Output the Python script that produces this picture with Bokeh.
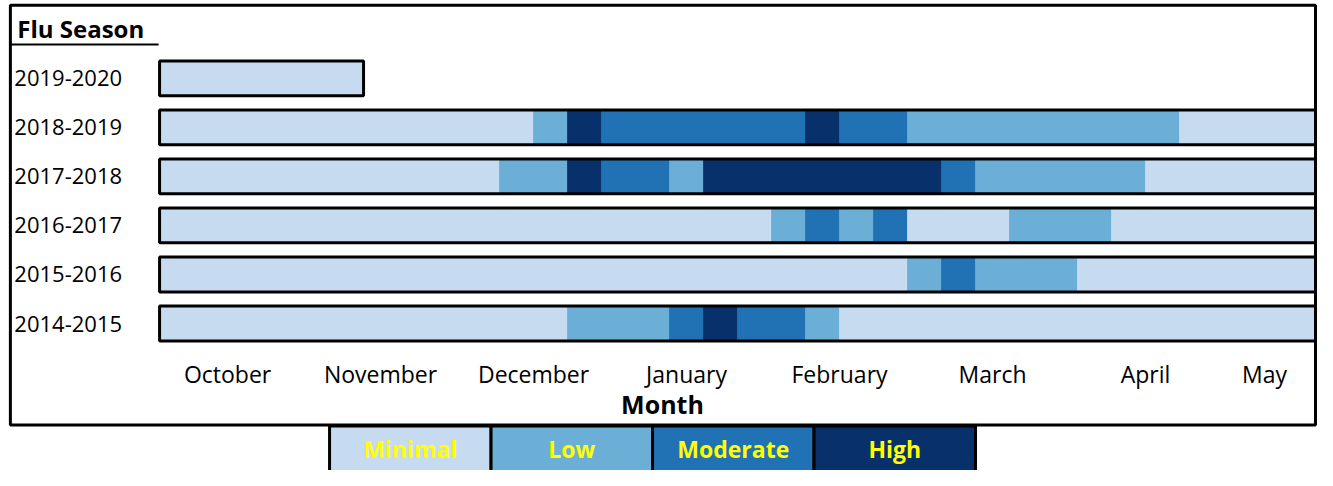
from bokeh.plotting import figure
from bokeh.models import Range1d, ColumnDataSource
from bokeh.core.properties import value
from bokeh.embed import file_html
from bokeh.resources import INLINE

# ---------------- data ----------------
seasons = ["2014-2015", "2015-2016", "2016-2017", "2017-2018", "2018-2019", "2019-2020"]

# weekly activity level per season (0=Minimal, 1=Low, 2=Moderate, 3=High), starting first week of October
activity_2014_2015 = [0, 0, 0, 0, 0, 0, 0, 0, 0, 0, 0, 0, 1, 1, 1, 2, 3, 2, 2, 1, 0, 0, 0, 0, 0, 0, 0, 0, 0, 0, 0, 0, 0, 0]
activity_2015_2016 = [0, 0, 0, 0, 0, 0, 0, 0, 0, 0, 0, 0, 0, 0, 0, 0, 0, 0, 0, 0, 0, 0, 1, 2, 1, 1, 1, 0, 0, 0, 0, 0, 0, 0]
activity_2016_2017 = [0, 0, 0, 0, 0, 0, 0, 0, 0, 0, 0, 0, 0, 0, 0, 0, 0, 0, 1, 2, 1, 2, 0, 0, 0, 1, 1, 1, 0, 0, 0, 0, 0, 0]
activity_2017_2018 = [0, 0, 0, 0, 0, 0, 0, 0, 0, 0, 1, 1, 3, 2, 2, 1, 3, 3, 3, 3, 3, 3, 3, 2, 1, 1, 1, 1, 1, 0, 0, 0, 0, 0]
activity_2018_2019 = [0, 0, 0, 0, 0, 0, 0, 0, 0, 0, 0, 1, 3, 2, 2, 2, 2, 2, 2, 3, 2, 2, 1, 1, 1, 1, 1, 1, 1, 1, 0, 0, 0, 0]
activity_2019_2020 = [0, 0, 0, 0, 0, 0]

season_activity = [activity_2014_2015, activity_2015_2016, activity_2016_2017,
                   activity_2017_2018, activity_2018_2019, activity_2019_2020]

level_names = ["Minimal", "Low", "Moderate", "High"]
level_colors = ["#c6dbef", "#6baed6", "#2171b5", "#08306b"]

month_labels = ["October", "November", "December", "January", "February", "March", "April", "May"]
month_positions = [2.0, 6.5, 11.0, 15.5, 20.0, 24.5, 29.0, 32.5]  # in weeks from season start

N_WEEKS = 34

# ---------------- layout ----------------
W, H = 1317, 470
SX, SY = W / 1333, H / 486      # reference-pixel -> canvas-pixel scale
X0 = 161 * SX                   # canvas x of week 0
CELL = (1315 - X0) / N_WEEKS    # px per week
ROW = 50.7 * SY                 # px per season row
Y0 = 334 * SY                   # canvas y of first season row centre
BAR_H = 36 * SY / ROW

def wx(px):
    """reference x pixel -> data x"""
    return (px * SX - X0) / CELL

def wy(py):
    """reference y pixel -> data y"""
    return (Y0 - py * SY) / ROW

FONT = value("Open Sans")

p = figure(width=W, height=H,
           x_range=Range1d(-X0 / CELL, (W - X0) / CELL),
           y_range=Range1d((Y0 - H) / ROW, Y0 / ROW),
           x_axis_location=None, y_axis_location=None,
           min_border=0, toolbar_location=None, output_backend="svg",
           outline_line_color=None, background_fill_color="white",
           border_fill_color="white")
p.grid.visible = False

# ---------------- cells (merged runs of equal level) ----------------
left, right, top, bottom, color = [], [], [], [], []
for i, acts in enumerate(season_activity):
    start = 0
    for w in range(1, len(acts) + 1):
        if w == len(acts) or acts[w] != acts[start]:
            left.append(start)
            right.append(w)
            top.append(i + BAR_H / 2)
            bottom.append(i - BAR_H / 2)
            color.append(level_colors[acts[start]])
            start = w
cells = ColumnDataSource(dict(left=left, right=right, top=top, bottom=bottom, color=color))
p.quad(left="left", right="right", top="top", bottom="bottom", source=cells,
       fill_color="color", line_color="color", line_width=0.8)

# row outlines
rows = ColumnDataSource(dict(
    left=[0] * len(seasons),
    right=[len(a) for a in season_activity],
    top=[i + BAR_H / 2 for i in range(len(seasons))],
    bottom=[i - BAR_H / 2 for i in range(len(seasons))],
))
p.quad(left="left", right="right", top="top", bottom="bottom", source=rows,
       fill_color=None, line_color="black", line_width=3)

# outer chart frame
p.quad(left=[wx(10)], right=[N_WEEKS], top=[wy(5)], bottom=[wy(439)],
       fill_color=None, line_color="black", line_width=3)

# header "Flu Season" with underline
p.text(x=[wx(17)], y=[wy(29)], text=["Flu Season"], text_font=FONT,
       text_font_style="bold", text_font_size="24px", text_align="left",
       text_baseline="middle", text_color="black")
p.segment(x0=[wx(10)], x1=[wx(160)], y0=[wy(45.5)], y1=[wy(45.5)],
          line_color="black", line_width=2)

# season labels
p.text(x=[wx(14)] * len(seasons), y=list(range(len(seasons))), text=seasons,
       text_font=FONT, text_font_size="22px", text_align="left",
       text_baseline="middle", text_color="black")

# month labels
p.text(x=month_positions, y=[wy(386)] * len(month_labels), text=month_labels,
       text_font=FONT, text_font_size="23px", text_align="center",
       text_baseline="middle", text_color="black")

p.text(x=[wx(670)], y=[wy(417)], text=["Month"], text_font=FONT,
       text_font_style="bold", text_font_size="25px", text_align="center",
       text_baseline="middle", text_color="black")

# legend boxes
LEG_L, LEG_W = 5.0, 4.75
leg = ColumnDataSource(dict(
    left=[LEG_L + k * LEG_W for k in range(len(level_names))],
    right=[LEG_L + (k + 1) * LEG_W for k in range(len(level_names))],
    xc=[LEG_L + (k + 0.5) * LEG_W for k in range(len(level_names))],
    name=level_names, color=level_colors,
))
p.quad(left="left", right="right", top=wy(440), bottom=wy(500), source=leg,
       fill_color="color", line_color="black", line_width=3)
p.text(x="xc", y=wy(464), text="name", source=leg, text_font=FONT,
       text_font_style="bold", text_font_size="23px", text_align="center",
       text_baseline="middle", text_color="#ffff00")

open("out.html", "w").write(file_html(p, INLINE))
